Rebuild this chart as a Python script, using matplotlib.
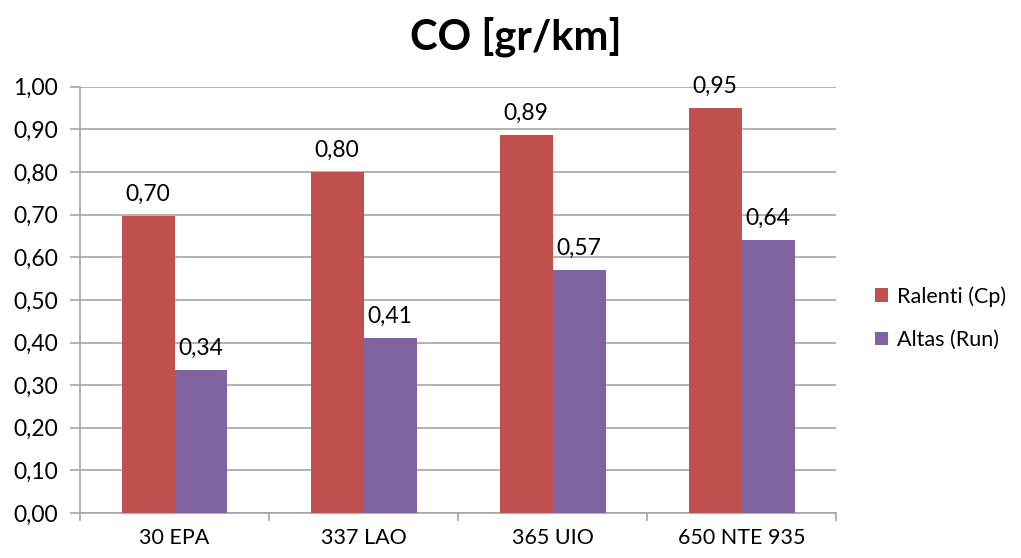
import matplotlib.pyplot as plt
import numpy as np

plt.rcParams['font.family'] = ['Lato', 'DejaVu Sans']

categories = ['30 EPA', '337 LAO', '365 UIO', '650 NTE 935']
ralenti = [0.696, 0.80, 0.886, 0.951]
altas = [0.336, 0.41, 0.569, 0.64]
series_names = ['Ralenti (Cp)', 'Altas (Run)']
yticks = np.arange(0, 1.01, 0.1)

red = '#C0504D'
purple = '#8064A2'
grid_c = '#A6A6A6'

fig = plt.figure(figsize=(10.21, 5.58), dpi=100)
ax = fig.add_axes([0.0784, 0.0806, 0.7406, 0.764])

x = np.arange(len(categories)) + 0.5
w = 0.28
b1 = ax.bar(x - w/2, ralenti, w, color=red, label=series_names[0], zorder=3)
b2 = ax.bar(x + w/2, altas, w, color=purple, label=series_names[1], zorder=3)

fmt = lambda v: ('%.2f' % v).replace('.', ',')
for bars in (b1, b2):
    ax.bar_label(bars, labels=[fmt(v) for v in bars.datavalues], padding=8, fontsize=16.5, color='#000000')

ax.set_xlim(0, len(categories))
ax.set_ylim(0, 1.0)
ax.set_yticks(yticks)
ax.set_yticklabels([fmt(v) for v in yticks], fontsize=16.5)
ax.set_xticks(np.arange(len(categories) + 1))
ax.set_xticklabels([])
ax.set_xticks(x, minor=True)
ax.set_xticklabels(categories, minor=True, fontsize=15.5)
ax.tick_params(axis='x', which='minor', length=0, pad=11)
ax.tick_params(axis='x', which='major', length=6, color=grid_c, width=1.2)
ax.tick_params(axis='y', length=7, color=grid_c, width=1.2, pad=9)
ax.grid(axis='y', color=grid_c, linewidth=1.2, zorder=0)

for s in ['top', 'right']:
    ax.spines[s].set_visible(False)
for s in ['left', 'bottom']:
    ax.spines[s].set_color(grid_c)
    ax.spines[s].set_linewidth(1.2)

fig.text(0.505, 0.935, 'CO [gr/km]', fontsize=30, fontweight='bold', ha='center', va='center')

fig.legend(loc='center left', bbox_to_anchor=(0.838, 0.43), frameon=False, fontsize=15.5,
           handlelength=0.6, handleheight=0.6, handletextpad=0.4, labelspacing=1.1)

fig.savefig('out.png', dpi=100)
